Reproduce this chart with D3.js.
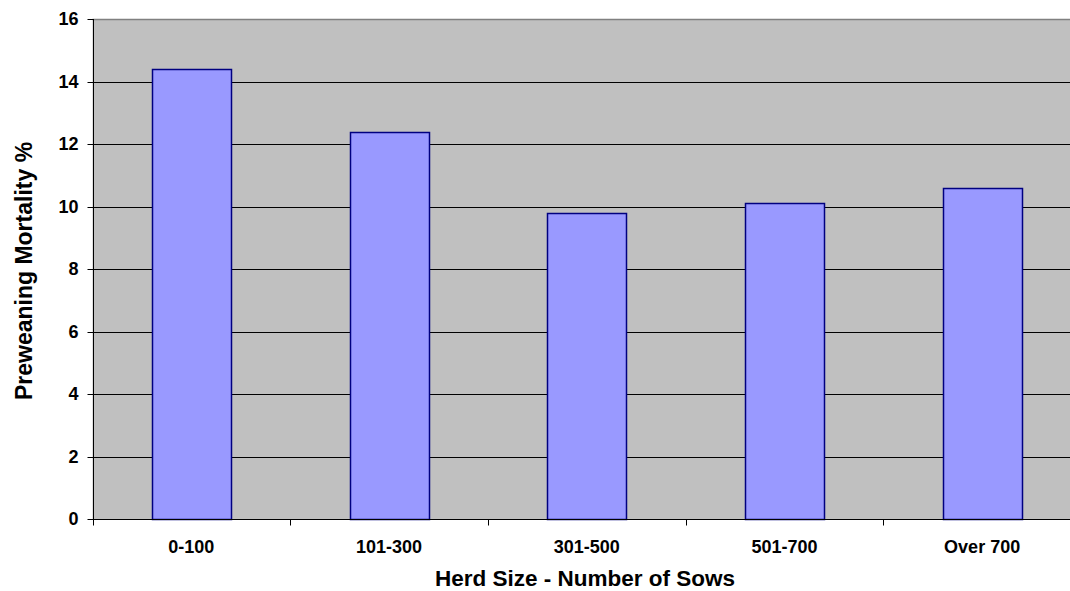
<!DOCTYPE html>
<html><head><meta charset="utf-8">
<script src="https://cdn.jsdelivr.net/npm/d3@7"></script>
<style>html,body{margin:0;padding:0;background:#fff;overflow:hidden}svg{display:block}</style>
</head><body>
<svg id="c" width="1070" height="591"></svg>
<script>
const categories = ["0-100","101-300","301-500","501-700","Over 700"];
const values = [14.4, 12.4, 9.8, 10.1, 10.6];
const yTicks = [0,2,4,6,8,10,12,14,16];
const xTitle = "Herd Size - Number of Sows";
const yTitle = "Preweaning Mortality %";

const svg = d3.select("#c");
const L = 92.5, R = 1081, T = 19, B = 519;
const x = d3.scaleBand().domain(categories).range([L, R]).paddingInner(0.6).paddingOuter(0.3);
const y = d3.scaleLinear().domain([0,16]).range([B, T]);
const font = "'Liberation Sans', Arial, sans-serif";

svg.append("rect").attr("x", L).attr("y", T).attr("width", R - L).attr("height", B - T).attr("fill", "#C0C0C0");

// gridlines
svg.append("g").selectAll("line").data(yTicks.filter(d => d > 0 && d < 16)).join("line")
  .attr("x1", L).attr("x2", R).attr("y1", d => Math.round(y(d)) + 0.5).attr("y2", d => Math.round(y(d)) + 0.5)
  .attr("stroke", "#000").attr("stroke-width", 1);
// top border
svg.append("line").attr("x1", L).attr("x2", R).attr("y1", T + 0.5).attr("y2", T + 0.5).attr("stroke", "#808080").attr("stroke-width", 1.5);

// bars
svg.append("g").selectAll("rect").data(values).join("rect")
  .attr("x", (d, i) => Math.round(x(categories[i])) + 0.5)
  .attr("y", d => Math.round(y(d)) + 0.5)
  .attr("width", Math.round(x.bandwidth()))
  .attr("height", d => Math.round(y(0)) - Math.round(y(d)))
  .attr("fill", "#9999FF").attr("stroke", "#000080").attr("stroke-width", 1.5);

// y axis
const yAxis = d3.axisLeft(y).tickValues(yTicks).tickSize(6).tickPadding(9).tickFormat(d3.format("d"));
const gy = svg.append("g").attr("transform", `translate(${Math.round(L)+0.5},0)`).call(yAxis);
gy.select(".domain").attr("stroke", "#000").attr("d", `M0,${T}V${B}`);
gy.selectAll(".tick line").attr("stroke", "#000");
gy.selectAll(".tick").attr("transform", d => `translate(0,${Math.round(y(d)) + 0.5})`);
gy.selectAll("text").attr("font-family", font).attr("font-size", 18).attr("font-weight", "bold").attr("fill", "#000");

// x axis
const xb = d3.scaleLinear().domain([0, categories.length]).range([L, R]);
const gx = svg.append("g").attr("transform", `translate(0,${Math.round(B)+0.5})`);
gx.append("line").attr("x1", L).attr("x2", R).attr("stroke", "#000");
gx.selectAll("line.t").data(d3.range(categories.length + 1)).join("line").attr("class", "t")
  .attr("x1", d => Math.round(xb(d)) + 0.5).attr("x2", d => Math.round(xb(d)) + 0.5)
  .attr("y1", 0).attr("y2", 6).attr("stroke", "#000");
gx.selectAll("text").data(categories).join("text")
  .attr("x", d => x(d) + x.bandwidth() / 2).attr("y", 33).attr("text-anchor", "middle")
  .attr("font-family", font).attr("font-size", 18).attr("font-weight", "bold").text(d => d);

// titles
svg.append("text").attr("x", 585).attr("y", 586).attr("text-anchor", "middle")
  .attr("font-family", font).attr("font-size", 22.5).attr("font-weight", "bold").text(xTitle);
svg.append("text").attr("transform", `translate(32,271) rotate(-90)`).attr("text-anchor", "middle")
  .attr("font-family", font).attr("font-size", 23).attr("font-weight", "bold").text(yTitle);
</script>
</body></html>
